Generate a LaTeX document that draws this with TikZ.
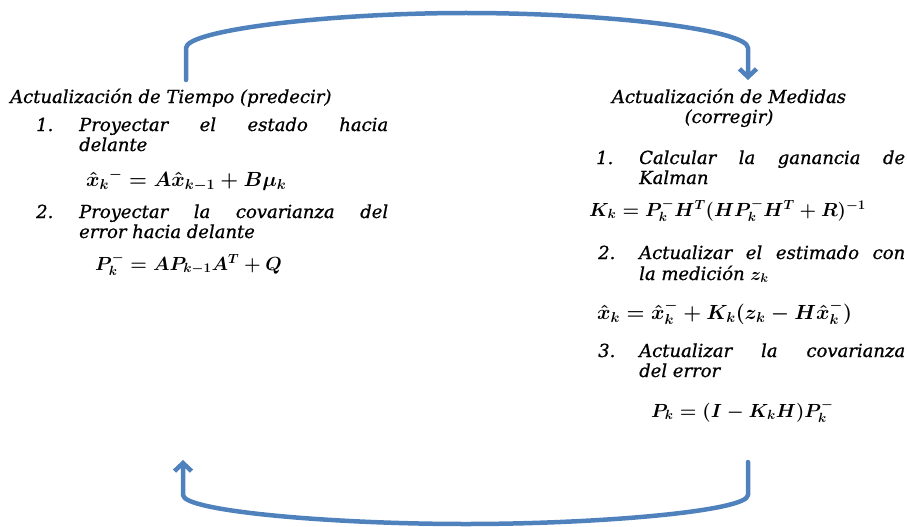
\RequirePackage{fix-cm}
\documentclass[tikz,border=0pt]{standalone}
\usepackage{amsmath}
\usepackage{fontspec}
\setmainfont{DejaVu Serif}[ItalicFeatures={FakeBold=0.8}]
\usetikzlibrary{arrows.meta}
\definecolor{flowblue}{RGB}{79,129,189}
\begin{document}
\begin{tikzpicture}[x=1pt,y=-1pt,
  txt/.style={inner sep=0pt,anchor=base west,font=\fontsize{18}{20}\selectfont\itshape},
  ctxt/.style={inner sep=0pt,anchor=base,font=\fontsize{18}{20}\selectfont\itshape},
  eq/.style={inner sep=0pt,anchor=base west,font=\fontsize{20.5}{24}\selectfont\boldmath},
  eqs/.style={inner sep=0pt,anchor=base west,font=\fontsize{19}{22}\selectfont\boldmath},
  flow/.style={draw=flowblue,line width=4.5pt,line cap=round,line join=round,
    -{Straight Barb[length=8pt,width=17pt]}}]
\useasboundingbox (0,0) rectangle (907,527);
% left block
\node[txt] (lt) at (10,103) {Actualización de Tiempo (predecir)};
\node[txt] (l1n) at (36,131) {1.};
\node[txt] (l1a) at (79,131) {\hbox to 309pt{Proyectar\hfill el\hfill estado\hfill hacia}};
\node[txt] (l1b) at (79,151) {delante};
\node[eq] (le1) at (86,186) {$\hat{x}_k{}^{-} = A\hat{x}_{k-1} + B\mu_k$};
\node[txt] (l2n) at (36,218) {2.};
\node[txt] (l2a) at (79,218) {\hbox to 309pt{Proyectar\hfill la\hfill covarianza\hfill del}};
\node[txt] (l2b) at (79,238) {error hacia delante};
\node[eqs] (le2) at (95,270) {$P_k^{-} = AP_{k-1}A^{T} + Q$};
% right block
\node[ctxt] (rt) at (729,103) {Actualización de Medidas};
\node[ctxt] (rt2) at (729,123) {(corregir)};
\node[txt] (r1n) at (596,164) {1.};
\node[txt] (r1a) at (639,164) {\hbox to 266pt{Calcular\hfill la\hfill ganancia\hfill de}};
\node[txt] (r1b) at (639,184) {Kalman};
\node[eqs] (re1) at (589,216) {$K_k = P_k^{-}H^{T}(HP_k^{-}H^{T} + R)^{-1}$};
\node[txt] (r2n) at (598,259) {2.};
\node[txt] (r2a) at (639,259) {\hbox to 266pt{Actualizar\hfill el\hfill estimado\hfill con}};
\node[txt] (r2b) at (639,280) {la medición $\boldsymbol{z_k}$};
\node[eq] (re2) at (597,319) {$\hat{x}_k = \hat{x}_k^{-} + K_k(z_k - H\hat{x}_k^{-})$};
\node[txt] (r3n) at (598,357) {3.};
\node[txt] (r3a) at (639,357) {\hbox to 266pt{Actualizar\hfill la\hfill covarianza}};
\node[txt] (r3b) at (639,377) {del error};
\node[eqs] (re3) at (651,417) {$P_k = (I - K_kH)P_k^{-}$};
% arrows
\coordinate (ts) at (186,80);
\coordinate (te) at (748,80);
\coordinate (bs) at (748,462);
\coordinate (be) at (183,460);
\draw[flow] (ts) -- (186,48) .. controls (186,30) and (330,13) .. (466,13)
  .. controls (610,13) and (748,30) .. (748,48) -- (te);
\draw[flow] (bs) -- (748,495) .. controls (748,511) and (600,524) .. (466,524)
  .. controls (330,524) and (183,511) .. (183,495) -- (be);
\end{tikzpicture}
\end{document}
